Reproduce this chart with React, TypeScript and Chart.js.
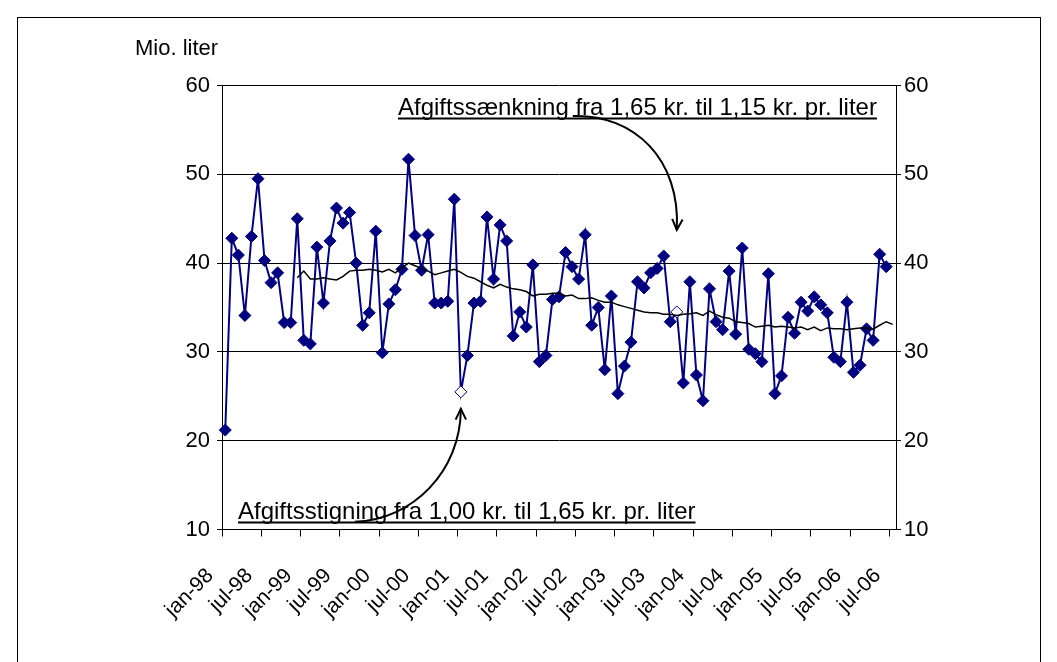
import React, { useEffect, useRef } from "react";
import { Chart, registerables } from "chart.js";

Chart.register(...registerables);

// ---------- data ----------
const monthNames = ["jan", "feb", "mar", "apr", "maj", "jun", "jul", "aug", "sep", "okt", "nov", "dec"];
const yearLabels = ["98", "99", "00", "01", "02", "03", "04", "05", "06"];
const categoryCount = 103; // jan-98 .. jul-06
const labelEvery = 6;

// monthly sales, mio. liter (jan-98 .. jun-06)
const sales = [
  21.2, 42.8, 40.9, 34.1, 43.0, 49.5, 40.3, 37.8, 38.9, 33.3, 33.3, 45.0,
  31.3, 30.9, 41.8, 35.5, 42.5, 46.2, 44.5, 45.7, 40.0, 33.0, 34.4, 43.6,
  29.9, 35.4, 37.0, 39.3, 51.7, 43.1, 39.2, 43.2, 35.5, 35.5, 35.7, 47.2,
  25.5, 29.6, 35.5, 35.7, 45.2, 38.2, 44.3, 42.5, 31.8, 34.5, 32.8, 39.8,
  28.9, 29.6, 35.9, 36.2, 41.2, 39.6, 38.2, 43.2, 33.0, 35.0, 28.0, 36.3,
  25.3, 28.4, 31.1, 37.9, 37.2, 38.9, 39.4, 40.8, 33.4, 34.5, 26.5, 37.9,
  27.4, 24.5, 37.1, 33.4, 32.5, 39.1, 32.0, 41.7, 30.3, 29.8, 28.9, 38.8,
  25.3, 27.3, 33.9, 32.1, 35.6, 34.6, 36.2, 35.3, 34.4, 29.4, 28.9, 35.6,
  27.7, 28.5, 32.6, 31.3, 41.0, 39.6,
];

// 12-month moving average (dec-98 .. jul-06)
const movingAverageStart = 11;
const movingAverage = [
  38.35, 39.1, 38.2, 38.2, 38.35, 38.2, 38.1, 38.5, 39.1, 39.2, 39.2, 39.3,
  39.2, 39.0, 39.3, 38.9, 39.5, 40.0, 39.7, 39.4, 39.1, 38.7, 38.9, 39.1,
  39.3, 38.95, 38.5, 38.3, 37.9, 37.5, 37.2, 37.6, 37.3, 37.1, 37.0, 36.8,
  36.3, 36.5, 36.5, 36.6, 36.6, 36.3, 36.4, 36.0, 36.0, 36.1, 35.8, 35.6,
  35.6, 35.3, 35.1, 34.9, 34.7, 34.5, 34.4, 34.4, 34.25, 34.25, 34.1, 34.25,
  34.3, 34.4, 34.1, 34.6, 34.2, 33.9, 33.8, 33.4, 33.3, 33.2, 32.8, 32.9,
  33.0, 32.8, 32.9, 32.8, 32.7, 32.8, 32.5, 32.8, 32.4, 32.7, 32.6, 32.6,
  32.5, 32.6, 32.7, 32.7, 32.55, 33.0, 33.4, 33.1,
];

// months marked with an open diamond (tax changes)
const openMarkers = [36, 69];
const increaseIndex = 36;
const decreaseIndex = 69;

const yMin = 10;
const yMax = 60;
const yStep = 10;

const axisTitle = "Mio. liter";
const decreaseText = "Afgiftssænkning fra 1,65 kr. til 1,15 kr. pr. liter";
const increaseText = "Afgiftsstigning fra 1,00 kr. til 1,65 kr. pr. liter";

// ---------- derived ----------
const categories: string[] = Array.from({ length: categoryCount }, (_, i) => {
  return monthNames[i % 12] + "-" + yearLabels[Math.floor(i / 12)];
});
const maSeries: (number | null)[] = [
  ...Array(movingAverageStart).fill(null),
  ...movingAverage,
];

const NAVY = "#000080";
const FONT = '"Liberation Sans", Arial, Helvetica, sans-serif';

function drawArrowHead(ctx: CanvasRenderingContext2D, tx: number, ty: number, fx: number, fy: number) {
  const ang = Math.atan2(ty - fy, tx - fx);
  const len = 12;
  const spread = Math.PI / 7;
  ctx.beginPath();
  ctx.moveTo(tx - len * Math.cos(ang - spread), ty - len * Math.sin(ang - spread));
  ctx.lineTo(tx, ty);
  ctx.lineTo(tx - len * Math.cos(ang + spread), ty - len * Math.sin(ang + spread));
  ctx.stroke();
}

const annotationPlugin = {
  id: "taxAnnotations",
  afterDraw(chart: any) {
    const { ctx, chartArea, scales } = chart;
    const xs = scales.x;
    const ys = scales.y;
    ctx.save();
    ctx.fillStyle = "#000";
    ctx.strokeStyle = "#000";
    ctx.font = "24px " + FONT;
    ctx.textBaseline = "alphabetic";
    ctx.textAlign = "left";

    // upper text (decrease)
    const ux = chartArea.left + 176;
    const uy = chartArea.top + 29;
    ctx.fillText(decreaseText, ux, uy);
    const uw = ctx.measureText(decreaseText).width;
    ctx.lineWidth = 2;
    ctx.beginPath();
    ctx.moveTo(ux, uy + 4);
    ctx.lineTo(ux + uw, uy + 4);
    ctx.stroke();

    // lower text (increase)
    const lx = chartArea.left + 16;
    const ly = chartArea.bottom - 11;
    ctx.fillText(increaseText, lx, ly);
    const lw = ctx.measureText(increaseText).width;
    ctx.beginPath();
    ctx.moveTo(lx, ly + 4);
    ctx.lineTo(lx + lw, ly + 4);
    ctx.stroke();

    // upper arrow
    ctx.lineWidth = 2;
    const t1x = xs.getPixelForValue(decreaseIndex);
    const t1y = ys.getPixelForValue(sales[decreaseIndex]) - 82;
    const s1x = t1x - 104;
    const s1y = t1y - 114;
    const c1a = [s1x + 62, s1y - 2];
    const c1b = [t1x + 4, t1y - 70];
    ctx.beginPath();
    ctx.moveTo(s1x, s1y);
    ctx.bezierCurveTo(c1a[0], c1a[1], c1b[0], c1b[1], t1x, t1y);
    ctx.stroke();
    drawArrowHead(ctx, t1x, t1y, c1b[0], c1b[1]);

    // lower arrow
    const t2x = xs.getPixelForValue(increaseIndex);
    const t2y = ys.getPixelForValue(sales[increaseIndex]) + 17;
    const s2x = t2x - 106;
    const s2y = t2y + 113;
    const c2a = [s2x + 58, s2y - 2];
    const c2b = [t2x, t2y + 62];
    ctx.beginPath();
    ctx.moveTo(s2x, s2y);
    ctx.bezierCurveTo(c2a[0], c2a[1], c2b[0], c2b[1], t2x, t2y);
    ctx.stroke();
    drawArrowHead(ctx, t2x, t2y, c2b[0], c2b[1]);

    ctx.restore();
  },
};

export default function App() {
  const canvasRef = useRef<HTMLCanvasElement>(null);

  useEffect(() => {
    const canvas = canvasRef.current;
    if (!canvas) return;
    const yTickFont = { family: FONT, size: 22 };
    const xTickFont = { family: FONT, size: 21 };
    const chart = new Chart(canvas, {
      type: "line",
      data: {
        labels: categories,
        datasets: [
          {
            label: "12 mdr. glidende gennemsnit",
            data: maSeries,
            borderColor: "#000",
            borderWidth: 1.5,
            pointRadius: 0,
            fill: false,
            tension: 0,
            spanGaps: false,
            yAxisID: "y",
          },
          {
            label: "Salg",
            data: sales,
            borderColor: NAVY,
            borderWidth: 2,
            pointStyle: "rectRot",
            pointRadius: 6,
            pointBorderWidth: 1,
            pointBorderColor: NAVY,
            pointBackgroundColor: (c: any) =>
              openMarkers.includes(c.dataIndex) ? "#ffffff" : NAVY,
            fill: false,
            tension: 0,
            yAxisID: "y",
          },
        ],
      },
      options: {
        responsive: false,
        animation: false,
        events: [],
        layout: { padding: { top: 85.5, left: 0, right: 0, bottom: 0 } },
        plugins: {
          legend: { display: false },
          tooltip: { enabled: false },
          title: { display: false },
        },
        scales: {
          x: {
            type: "category",
            offset: true,
            grid: {
              offset: true,
              drawOnChartArea: false,
              drawTicks: true,
              tickLength: 7,
              lineWidth: 1,
              color: (c: any) => (c.index % labelEvery === 0 ? "#000" : "rgba(0,0,0,0)"),
            },
            border: { display: true, color: "#000", width: 1 },
            ticks: {
              autoSkip: false,
              minRotation: 45,
              maxRotation: 45,
              labelOffset: -15,
              padding: 27,
              color: "#000",
              font: xTickFont,
              callback: (_v: any, i: number) => (i % labelEvery === 0 ? categories[i] : ""),
            },
            afterFit: (s: any) => {
              s.height = 132.5;
            },
          },
          y: {
            type: "linear",
            position: "left",
            min: yMin,
            max: yMax,
            grid: { color: "#000", lineWidth: 1, tickLength: 5, drawTicks: true },
            border: { display: true, color: "#000", width: 1 },
            ticks: { stepSize: yStep, padding: 7, color: "#000", font: yTickFont },
            afterFit: (s: any) => {
              s.width = 222;
            },
          },
          y2: {
            type: "linear",
            position: "right",
            min: yMin,
            max: yMax,
            grid: { drawOnChartArea: false, color: "#000", lineWidth: 1, tickLength: 5, drawTicks: true },
            border: { display: true, color: "#000", width: 1 },
            ticks: { stepSize: yStep, padding: 3, color: "#000", font: yTickFont },
            afterFit: (s: any) => {
              s.width = 161;
            },
          },
        },
      },
      plugins: [annotationPlugin],
    } as any);
    return () => chart.destroy();
  }, []);

  return (
    <div
      style={{
        position: "absolute",
        left: 0,
        top: 0,
        width: 1057,
        height: 662,
        overflow: "hidden",
        background: "#fff",
      }}
    >
      <canvas
        ref={canvasRef}
        width={1057}
        height={662}
        style={{ position: "absolute", left: 0, top: 0, width: 1057, height: 662 }}
      />
      <div
        style={{
          position: "absolute",
          left: 17,
          top: 17,
          width: 1022,
          height: 700,
          borderLeft: "1px solid #000",
          borderTop: "1px solid #000",
          borderRight: "1px solid #000",
          pointerEvents: "none",
        }}
      />
      <div
        style={{
          position: "absolute",
          left: 135,
          top: 35,
          fontFamily: FONT,
          fontSize: 22,
          lineHeight: "26px",
          color: "#000",
          whiteSpace: "nowrap",
        }}
      >
        {axisTitle}
      </div>
    </div>
  );
}
